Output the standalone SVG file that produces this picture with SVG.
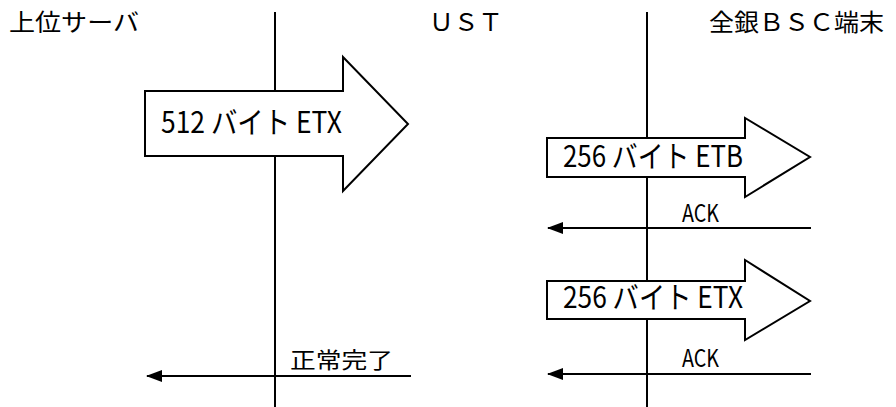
<svg xmlns="http://www.w3.org/2000/svg" width="896" height="407" viewBox="0 0 896 407">
<defs>
<style>
.hdr{font-family:"Noto Sans CJK JP","Noto Sans",sans-serif;font-size:24px;fill:#000}
.lbl{font-family:"Noto Sans CJK JP","Noto Sans",sans-serif;font-size:30px;fill:#000}
.sm{font-family:"Noto Sans CJK JP","Noto Sans",sans-serif;font-size:24px;fill:#000}
.jp{font-family:"Noto Sans CJK JP","Noto Sans",sans-serif;font-size:22px;fill:#000}
.life{stroke:#000;stroke-width:2;fill:none}
.big{stroke:#000;stroke-width:2;fill:#fff;stroke-linejoin:miter}
.msg{stroke:#000;stroke-width:2;fill:none;marker-end:url(#ah)}
</style>
<marker id="ah" viewBox="0 0 16 12" refX="15" refY="6" markerWidth="16" markerHeight="12" markerUnits="userSpaceOnUse" orient="auto">
<path d="M0,0 L16,6 L0,12 z" fill="#000"/>
</marker>
</defs>
<g id="lifelines">
<line class="life" x1="275" y1="12" x2="275" y2="407"/>
<line class="life" x1="647" y1="12" x2="647" y2="407"/>
</g>
<g id="headers">
<text id="h-server" class="hdr" x="9" y="31" textLength="130" lengthAdjust="spacingAndGlyphs">上位サーバ</text>
<text id="h-ust" class="hdr" x="429" y="31" textLength="74" lengthAdjust="spacingAndGlyphs">ＵＳＴ</text>
<text id="h-bsc" class="hdr" x="709" y="31" textLength="175" lengthAdjust="spacingAndGlyphs">全銀ＢＳＣ端末</text>
</g>
<g id="connectors">
<line class="msg" x1="811" y1="228" x2="548" y2="228"/>
<line class="msg" x1="811" y1="374" x2="548" y2="374"/>
<line class="msg" x1="411" y1="376" x2="147" y2="376"/>
</g>
<g id="n-512">
<polygon class="big" points="145,91 343,91 343,57 408,124 343,191 343,156 145,156"/>
<text class="lbl" x="161" y="133" textLength="181" lengthAdjust="spacingAndGlyphs">512 バイト ETX</text>
</g>
<g id="n-256etb">
<polygon class="big" points="547,138 745,138 745,118 810,157 745,197 745,177 547,177"/>
<text class="lbl" x="563" y="167" textLength="180" lengthAdjust="spacingAndGlyphs">256 バイト ETB</text>
</g>
<g id="n-256etx">
<polygon class="big" points="547,281 745,281 745,260 810,301 745,340 745,319 547,319"/>
<text class="lbl" x="563" y="308" textLength="180" lengthAdjust="spacingAndGlyphs">256 バイト ETX</text>
</g>
<g id="labels">
<text class="sm" x="682" y="222" textLength="37" lengthAdjust="spacingAndGlyphs">ACK</text>
<text class="sm" x="682" y="367" textLength="37" lengthAdjust="spacingAndGlyphs">ACK</text>
<text class="jp" x="290" y="368" textLength="103" lengthAdjust="spacingAndGlyphs">正常完了</text>
</g>
</svg>
